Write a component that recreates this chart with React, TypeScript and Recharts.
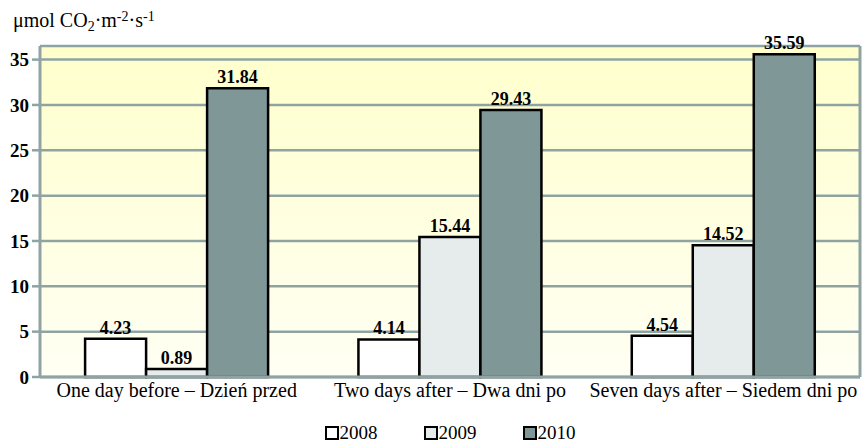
import React from 'react';
import { BarChart, Bar, XAxis, YAxis, CartesianGrid, LabelList, Legend } from 'recharts';

const categories = ['One day before – Dzień przed', 'Two days after – Dwa dni po', 'Seven days after – Siedem dni po'];
const series2008 = [4.23, 4.14, 4.54];
const series2009 = [0.89, 15.44, 14.52];
const series2010 = [31.84, 29.43, 35.59];
const yTicks = [0, 5, 10, 15, 20, 25, 30, 35];
const seriesNames = ['2008', '2009', '2010'];
const seriesColors = ['#ffffff', '#e6ecec', '#7f9797'];

const data = categories.map((c, i) => ({
  cat: c,
  idx: i,
  y2008: series2008[i],
  y2009: series2009[i],
  y2010: series2010[i],
}));

const FONT = 'Liberation Serif';
const GRID = '#8fa3a3';

const LegendContent = () => (
  <div style={{ display: 'flex', justifyContent: 'center', fontFamily: FONT, fontSize: 19, color: '#000', gap: 46, lineHeight: '18px' }}>
    {seriesNames.map((n, i) => (
      <div key={n} style={{ display: 'flex', alignItems: 'center' }}>
        <span style={{ display: 'inline-block', width: 10, height: 10, border: '2px solid #000', background: seriesColors[i], marginRight: 1 }} />
        <span>{n}</span>
      </div>
    ))}
  </div>
);

export default function App() {
  return (
    <div style={{ position: 'absolute', left: 0, top: 0, width: 864, height: 444, background: '#fff' }}>
      <div style={{ position: 'absolute', left: 13, top: 9, fontFamily: FONT, fontSize: 20, color: '#000', whiteSpace: 'nowrap', zIndex: 2 }}>
        μmol CO<sub style={{ fontSize: 14, verticalAlign: -4 }}>2</sub>·m<sup style={{ fontSize: 14, verticalAlign: 6 }}>-2</sup>·s<sup style={{ fontSize: 14, verticalAlign: 6 }}>-1</sup>
      </div>
      <BarChart
        width={864}
        height={444}
        data={data}
        margin={{ top: 46, right: 2, left: 0, bottom: 9 }}
        barCategoryGap="16.5%"
        barGap={0}
        style={{ fontFamily: FONT }}
      >
        <defs>
          <linearGradient id="bgGrad" x1="0" y1="0" x2="0" y2="1">
            <stop offset="0%" stopColor="#ffffcc" />
            <stop offset="100%" stopColor="#fffff4" />
          </linearGradient>
        </defs>
        <CartesianGrid vertical={false} stroke={GRID} strokeWidth={2.5} fill="url(#bgGrad)" />
        <XAxis
          xAxisId="b"
          type="number"
          dataKey="idx"
          domain={[0, 3]}
          ticks={[1, 2]}
          tick={false}
          height={0}
          axisLine={false}
          tickLine={{ stroke: GRID, strokeWidth: 2 }}
          tickSize={6}
        />
        <XAxis
          dataKey="cat"
          height={40}
          axisLine={{ stroke: GRID, strokeWidth: 3 }}
          tickLine={false}
          tickSize={0}
          tickMargin={6}
          interval={0}
          tick={{ fontFamily: FONT, fontSize: 20, fill: '#000' }}
        />
        <YAxis
          width={40}
          domain={[0, 36.5]}
          ticks={yTicks}
          interval={0}
          axisLine={{ stroke: GRID, strokeWidth: 3 }}
          tickLine={{ stroke: GRID, strokeWidth: 2.5 }}
          tickSize={8}
          tickMargin={3}
          tick={{ fontFamily: FONT, fontSize: 19, fontWeight: 'bold', fill: '#000' }}
        />
        <YAxis
          yAxisId="r"
          orientation="right"
          width={2}
          domain={[0, 36.5]}
          tick={false}
          tickLine={false}
          axisLine={{ stroke: GRID, strokeWidth: 3 }}
        />
        <Legend verticalAlign="bottom" content={<LegendContent />} wrapperStyle={{ height: 18, top: 424, bottom: 'auto', left: 40, width: 820 }} />
        <Bar dataKey="y2008" name="2008" fill={seriesColors[0]} stroke="#000" strokeWidth={2.5} isAnimationActive={false}>
          <LabelList dataKey="y2008" position="top" offset={5} style={{ fontFamily: FONT, fontSize: 18, fontWeight: 'bold', fill: '#000' }} />
        </Bar>
        <Bar dataKey="y2009" name="2009" fill={seriesColors[1]} stroke="#000" strokeWidth={2.5} isAnimationActive={false}>
          <LabelList dataKey="y2009" position="top" offset={5} style={{ fontFamily: FONT, fontSize: 18, fontWeight: 'bold', fill: '#000' }} />
        </Bar>
        <Bar dataKey="y2010" name="2010" fill={seriesColors[2]} stroke="#000" strokeWidth={2.5} isAnimationActive={false}>
          <LabelList dataKey="y2010" position="top" offset={5} style={{ fontFamily: FONT, fontSize: 18, fontWeight: 'bold', fill: '#000' }} />
        </Bar>
      </BarChart>
    </div>
  );
}
